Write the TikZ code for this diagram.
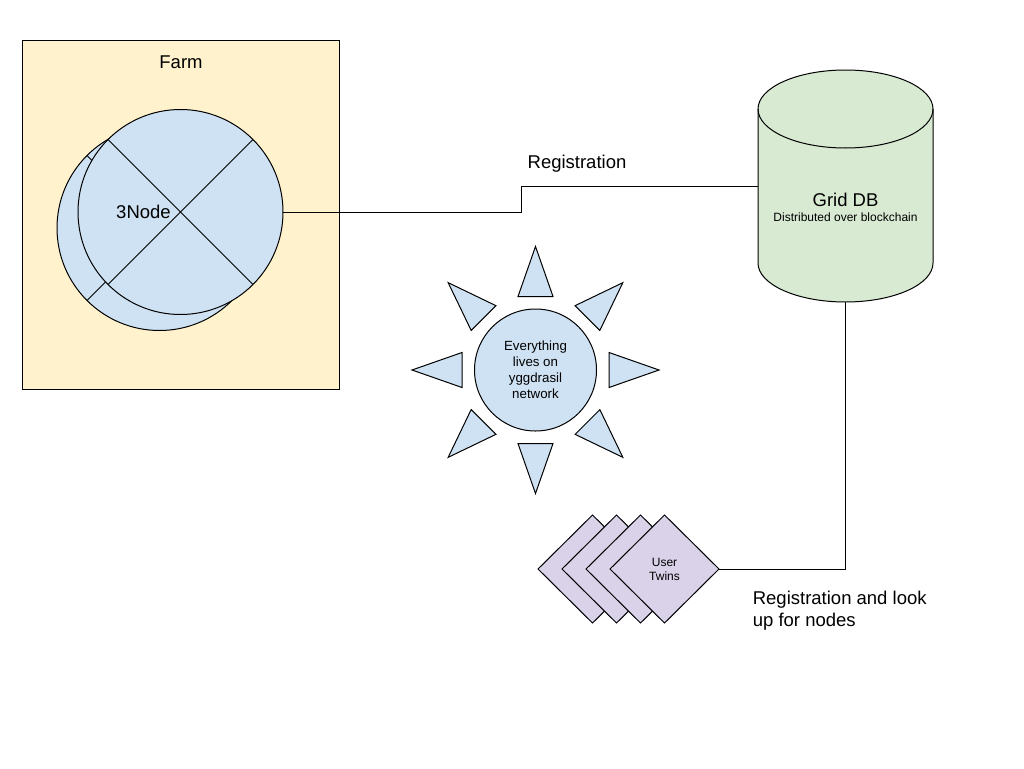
\documentclass[tikz,border=0pt]{standalone}
\usepackage{fontspec}
\setmainfont{Liberation Sans}
\usetikzlibrary{shapes.geometric}
\definecolor{farmfill}{HTML}{FFF2CC}
\definecolor{bluefill}{HTML}{CFE2F3}
\definecolor{greenfill}{HTML}{D9EAD3}
\definecolor{purplefill}{HTML}{D9D2E9}
\tikzset{
  big/.style={font=\fontsize{18.5}{22}\selectfont},
  small/.style={font=\fontsize{12}{14}\selectfont},
  farmbox/.style={draw, fill=farmfill, minimum width=317, minimum height=348, inner sep=0, outer sep=0},
  nodecircle/.style={circle, draw, fill=bluefill, minimum size=205, inner sep=0, outer sep=0},
  suncircle/.style={circle, draw, fill=bluefill, minimum size=122, inner sep=0, outer sep=0, align=center, font=\fontsize{13.3}{16}\selectfont},
  ray/.style={draw, fill=bluefill, line join=miter},
  twin/.style={diamond, draw, fill=purplefill, minimum width=109, minimum height=108, inner sep=0, outer sep=0, align=center, font=\fontsize{12}{14}\selectfont},
  dbbox/.style={minimum width=175, minimum height=232, inner sep=0, outer sep=0},
  conn/.style={draw, line width=1pt}
}
\begin{document}
\begin{tikzpicture}[x=1pt,y=-1pt,line width=1pt]
\useasboundingbox[fill=white] (0,0) rectangle (1024,768);
% Farm
\node[farmbox] (farm) at (180.5,215) {};
\node[big] (farmlabel) at (181,62) {Farm};
% back 3Node
\node[nodecircle] (nb) at (159.5,228) {};
\draw (nb.north west) -- (nb.south east);
\draw (nb.south west) -- (nb.north east);
% front 3Node
\node[nodecircle] (n3) at (180.5,212) {};
\draw (n3.north west) -- (n3.south east);
\draw (n3.south west) -- (n3.north east);
\node[big, inner sep=1pt] (n3label) at (143.5,212) {3Node};
% Grid DB cylinder
\node[dbbox] (db) at (845.5,186) {};
\filldraw[fill=greenfill] (758,109) -- (758,263) arc[start angle=180, end angle=0, x radius=87.5, y radius=39]
  -- (933,109) arc[start angle=0, end angle=-180, x radius=87.5, y radius=39] -- cycle;
\draw (758,109) arc[start angle=180, end angle=0, x radius=87.5, y radius=39];
\node[big] (dbtitle) at (845.5,200) {Grid DB};
\node[small] (dbsub) at (845.5,217.5) {Distributed over blockchain};
% Registration connector
\coordinate (bend) at (521,212);
\draw (n3.east) -- (bend) |- (db.west);
\node[big] (reglabel) at (577,164) {Registration};
% Sun
\node[suncircle] (sun) at (535.5,370) {Everything\\lives on\\yggdrasil\\network};
\begin{scope}[shift={(sun.center)}]
\foreach \a [evaluate=\a as \b using \a+90, evaluate=\a as \c using \a-90] in {0,45,...,315}
  \draw[ray] (\a:123.5) -- ([shift={(\b:17.5)}]\a:73.5) -- ([shift={(\c:17.5)}]\a:73.5) -- cycle;
\end{scope}
% User twins
\node[twin] (ut1) at (592.5,569) {};
\node[twin] (ut2) at (616.5,569) {};
\node[twin] (ut3) at (640.5,569) {};
\node[twin] (ut4) at (664.5,569) {User\\Twins};
\draw (db.south) |- (ut4.east);
\node[big, anchor=west, align=left] (lookup) at (749,611) {Registration and look\\up for nodes};
\end{tikzpicture}
\end{document}
